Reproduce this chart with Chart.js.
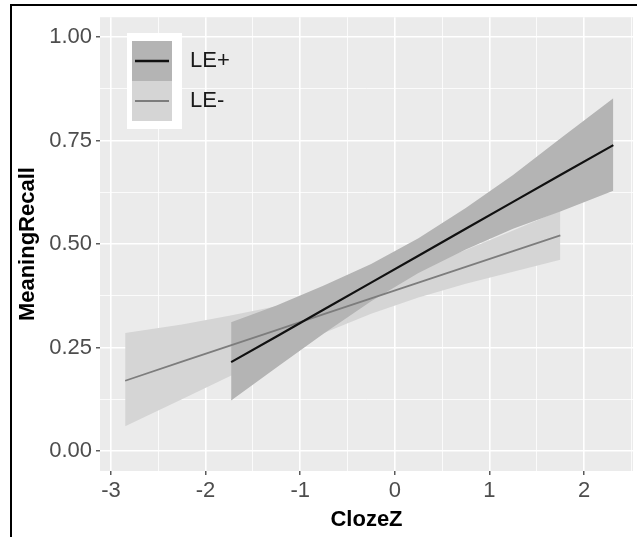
<!DOCTYPE html>
<html lang="en">
<head>
<meta charset="UTF-8">
<title>MeaningRecall by ClozeZ</title>
<script src="https://cdn.jsdelivr.net/npm/chart.js@4.4.1/dist/chart.umd.min.js"></script>
<style>
    html, body { margin: 0; padding: 0; background: #fff; overflow: hidden; }
    #wrap { position: relative; width: 637px; height: 537px; }
    #frame { position: absolute; left: 10px; top: 4px; right: -10px; bottom: -10px;
             border-top: 2px solid #000; border-left: 2px solid #000; pointer-events: none; }
</style>
</head>
<body>
<div id="wrap">
    <canvas id="chart" width="637" height="537"></canvas>
    <div id="frame"></div>
</div>
<script>
// LE+ : fitted line and confidence band
const lePlusX     = [-1.73, -1.25, -0.75, -0.25, 0.25, 0.75, 1.25, 1.75, 2.31];
const lePlusFit   = [0.215, 0.277, 0.342, 0.407, 0.472, 0.537, 0.602, 0.667, 0.739];
const lePlusUpper = [0.311, 0.352, 0.400, 0.452, 0.514, 0.587, 0.667, 0.755, 0.852];
const lePlusLower = [0.122, 0.202, 0.284, 0.362, 0.430, 0.487, 0.537, 0.579, 0.629];

// LE- : fitted line and confidence band
const leMinusX     = [-2.85, -2.25, -1.75, -1.25, -0.75, -0.25, 0.25, 0.75, 1.25, 1.75];
const leMinusFit   = [0.170, 0.216, 0.254, 0.292, 0.331, 0.369, 0.407, 0.445, 0.483, 0.521];
const leMinusUpper = [0.285, 0.306, 0.327, 0.350, 0.377, 0.406, 0.443, 0.486, 0.533, 0.581];
const leMinusLower = [0.060, 0.125, 0.180, 0.234, 0.285, 0.332, 0.371, 0.404, 0.433, 0.462];

const groups = ['LE+', 'LE-'];

// axis ticks
const xTicks = [-3, -2, -1, 0, 1, 2];
const xMinor = [-2.5, -1.5, -0.5, 0.5, 1.5, 2.5];
const yTicks = [0, 0.25, 0.5, 0.75, 1];
const yMinor = [0.125, 0.375, 0.625, 0.875];

const lineColors = ['#111111', '#7d7d7d'];
const lineWidths = [2.2, 1.8];
const bandColors = ['#b4b4b4', '#d5d5d5'];

const pts = (xs, ys) => xs.map((x, i) => ({ x: x, y: ys[i] }));

const tickFont = { family: '"Liberation Sans", Arial, sans-serif', size: 22 };
const titleFont = { family: '"Liberation Sans", Arial, sans-serif', size: 22, weight: 'bold' };

function gridFor(major) {
    return {
        color: '#ffffff',
        lineWidth: c => major.includes(c.tick.value) ? 1.6 : 0.8,
        drawTicks: true,
        tickLength: 4,
        tickWidth: 1.2,
        tickColor: c => major.includes(c.tick.value) ? '#333333' : 'rgba(0,0,0,0)'
    };
}

// grey panel behind the plot
const panelBg = {
    id: 'panelBg',
    beforeDraw(chart) {
        const { ctx, chartArea: a } = chart;
        ctx.save();
        ctx.fillStyle = '#ebebeb';
        ctx.fillRect(a.left, a.top, a.right - a.left, a.bottom - a.top);
        ctx.restore();
    }
};

// ggplot-style legend inside the panel
const legendKey = {
    id: 'legendKey',
    afterDatasetsDraw(chart) {
        const ctx = chart.ctx;
        ctx.save();
        ctx.fillStyle = '#ffffff';
        ctx.fillRect(127, 33, 55, 96);
        groups.forEach((g, i) => {
            const y0 = 41 + i * 40;
            ctx.fillStyle = bandColors[i];
            ctx.fillRect(132, y0, 40, 40);
            ctx.strokeStyle = lineColors[i];
            ctx.lineWidth = lineWidths[i] + 0.4;
            ctx.beginPath();
            ctx.moveTo(135, y0 + 20);
            ctx.lineTo(169, y0 + 20);
            ctx.stroke();
            ctx.fillStyle = '#1a1a1a';
            ctx.font = '22px "Liberation Sans", Arial, sans-serif';
            ctx.textBaseline = 'middle';
            ctx.fillText(g, 190, y0 + 20);
        });
        ctx.restore();
    }
};

new Chart(document.getElementById('chart'), {
    type: 'line',
    data: {
        datasets: [
            { label: 'LE+', data: pts(lePlusX, lePlusFit), borderColor: lineColors[0],
              borderWidth: lineWidths[0], pointRadius: 0, fill: false },
            { label: 'LE-', data: pts(leMinusX, leMinusFit), borderColor: lineColors[1],
              borderWidth: lineWidths[1], pointRadius: 0, fill: false },
            { label: 'LE+ lower', data: pts(lePlusX, lePlusLower), borderWidth: 0,
              borderColor: 'rgba(0,0,0,0)', pointRadius: 0, fill: false },
            { label: 'LE+ upper', data: pts(lePlusX, lePlusUpper), borderWidth: 0,
              borderColor: 'rgba(0,0,0,0)', pointRadius: 0, fill: '-1', backgroundColor: bandColors[0] },
            { label: 'LE- lower', data: pts(leMinusX, leMinusLower), borderWidth: 0,
              borderColor: 'rgba(0,0,0,0)', pointRadius: 0, fill: false },
            { label: 'LE- upper', data: pts(leMinusX, leMinusUpper), borderWidth: 0,
              borderColor: 'rgba(0,0,0,0)', pointRadius: 0, fill: '-1', backgroundColor: bandColors[1] }
        ]
    },
    options: {
        responsive: false,
        animation: false,
        devicePixelRatio: 1,
        layout: { padding: { left: 0, right: 4, top: 13, bottom: 0 } },
        plugins: {
            legend: { display: false },
            tooltip: { enabled: false },
            filler: { drawTime: 'beforeDatasetsDraw' }
        },
        scales: {
            x: {
                type: 'linear',
                min: -3.116,
                max: 2.518,
                afterBuildTicks: s => { s.ticks = [...xTicks, ...xMinor].sort((a, b) => a - b).map(v => ({ value: v })); },
                afterFit: s => { s.height = 66; },
                ticks: {
                    autoSkip: false, maxRotation: 0, padding: 3,
                    color: '#4d4d4d', font: tickFont,
                    callback: v => xTicks.includes(v) ? String(v) : ''
                },
                grid: gridFor(xTicks),
                border: { display: false },
                title: { display: true, text: 'ClozeZ', color: '#000', font: titleFont,
                         padding: { top: 0, bottom: 4 } }
            },
            y: {
                type: 'linear',
                min: -0.048,
                max: 1.048,
                afterBuildTicks: s => { s.ticks = [...yTicks, ...yMinor].sort((a, b) => a - b).map(v => ({ value: v })); },
                afterFit: s => { s.width = 100; },
                ticks: {
                    autoSkip: false, padding: 4,
                    color: '#4d4d4d', font: tickFont,
                    callback: v => yTicks.includes(v) ? v.toFixed(2) : ''
                },
                grid: gridFor(yTicks),
                border: { display: false },
                title: { display: true, text: 'MeaningRecall', color: '#000', font: titleFont,
                         padding: { top: 15, bottom: 0 } }
            }
        }
    },
    plugins: [panelBg, legendKey]
});
</script>
</body>
</html>
